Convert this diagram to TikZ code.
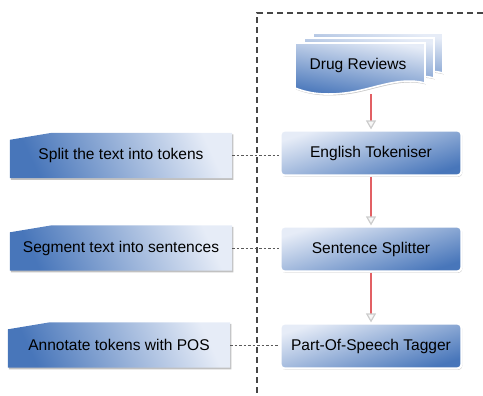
\documentclass[tikz,border=0pt]{standalone}
\usepackage{fontspec}
\setmainfont{Liberation Sans}
\usetikzlibrary{arrows.meta,shadows,backgrounds}
\definecolor{cL}{RGB}{230,236,247}
\definecolor{cM}{RGB}{176,198,230}
\definecolor{cD}{RGB}{72,118,186}
\definecolor{flowred}{RGB}{226,96,100}
\definecolor{framegray}{RGB}{70,70,70}
\tikzset{
  mainbox/.style={rounded corners=4bp, draw=white, line width=2.2bp,
    top color=cL, middle color=cM!60!cL, bottom color=cD, shading angle=18,
    drop shadow={shadow xshift=0.8bp, shadow yshift=-1.4bp, fill=gray!55, opacity=0.8},
    minimum width=181bp, minimum height=45bp, inner sep=0pt,
    font=\fontsize{15.6}{18}\selectfont},
  lefttext/.style={minimum width=222bp, minimum height=45bp, inner sep=0pt,
    font=\fontsize{15.6}{18}\selectfont},
  leftshape/.style={top color=cL, middle color=cM, bottom color=cD, shading angle=-65,
    drop shadow={shadow xshift=1.2bp, shadow yshift=-1.6bp, fill=gray!60, opacity=0.8}},
  docsheet/.style={top color=cL, middle color=cM, bottom color=cD, shading angle=-10,
    draw=white, line width=1.6bp,
    drop shadow={shadow xshift=0.8bp, shadow yshift=-1.4bp, fill=gray!55, opacity=0.8}},
  flow/.style={draw=flowred, line width=1.2bp,
    -{Triangle[length=9bp, width=10bp, color=gray!40, fill=gray!6]}},
  link/.style={draw=gray!70!black, line width=1bp, dash pattern=on 2.5bp off 2bp},
  frame/.style={draw=framegray, line width=1.1bp, dash pattern=on 6bp off 4bp}
}
\begin{document}
\begin{tikzpicture}[x=1bp,y=-1bp]
\useasboundingbox (0,0) rectangle (483,395);
% frame
\coordinate (fc) at (257,13);
\coordinate (fr) at (483,13);
\coordinate (fb) at (257,395);
\draw[frame] (fr) -- (fc) -- (fb);
% document stack
\foreach \dx/\dy in {18/-10, 9/-5, 0/0}{
  \path[docsheet, shift={(\dx,\dy)}] (295,43) -- (425,43) -- (425,83)
    .. controls (398,76) and (372,90) .. (345,93)
    .. controls (320,96) and (305,92) .. (295,88) -- cycle;
}
\node[font=\fontsize{15.6}{18}\selectfont] (dr) at (358,65) {Drug Reviews};
\coordinate (drb) at (371,94);
% main boxes
\node[mainbox] (e1) at (371,153) {English Tokeniser};
\node[mainbox] (e2) at (371,249) {Sentence Splitter};
\node[mainbox] (e3) at (371,346) {Part-Of-Speech Tagger};
% left boxes
\node[lefttext] (s1) at (121,155.5) {Split the text into tokens};
\node[lefttext] (s2) at (121,248) {Segment text into sentences};
\node[lefttext] (s3) at (119,345) {Annotate tokens with POS};
\begin{scope}[on background layer]
\foreach \n in {s1,s2,s3}{
  \path[leftshape] ([yshift=-7bp]\n.north west) -- ([xshift=42bp]\n.north west)
    -- (\n.north east) -- (\n.south east) -- (\n.south west) -- cycle;
}
\end{scope}
% connectors
\draw[flow] (drb) -- (e1.north);
\draw[flow] (e1.south) -- (e2.north);
\draw[flow] (e2.south) -- (e3.north);
\draw[link] (s1.east) -- (s1.east -| e1.west);
\draw[link] (s2.east) -- (s2.east -| e2.west);
\draw[link] (s3.east) -- (s3.east -| e3.west);
\end{tikzpicture}
\end{document}
